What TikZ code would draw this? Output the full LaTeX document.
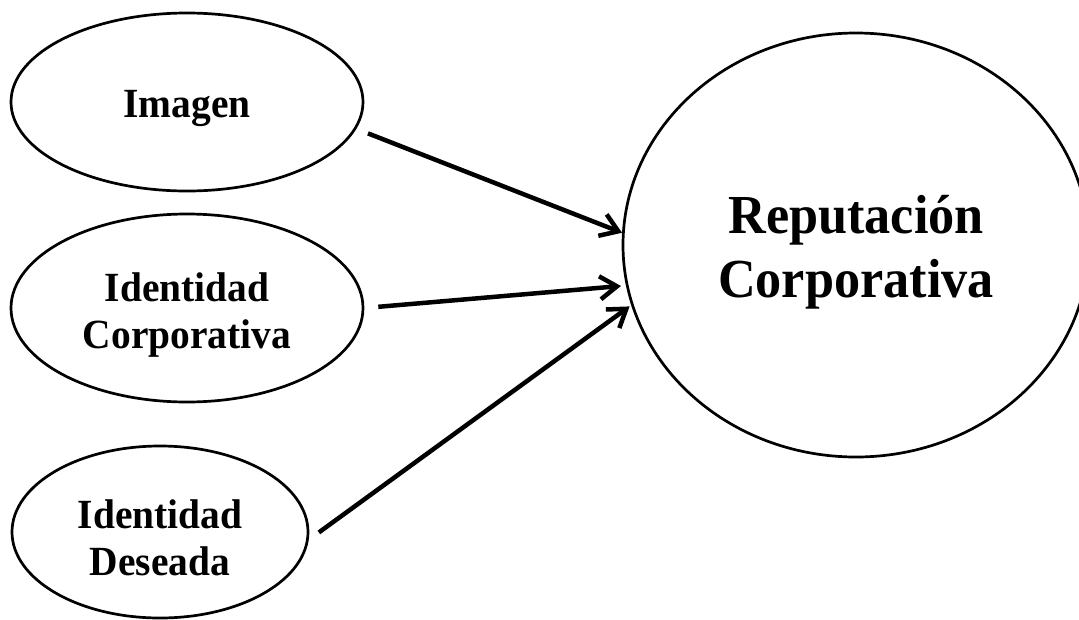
\documentclass[tikz,border=0pt]{standalone}
\usepackage{fontspec}
\setmainfont{Liberation Serif}[FakeStretch=0.95]
\usetikzlibrary{shapes.geometric,arrows.meta}
\begin{document}
\begin{tikzpicture}[x=1pt,y=-1pt,
  oval/.style={ellipse, draw, line width=2.7pt, inner sep=0pt},
  lbl/.style={inner sep=0pt, align=center, font=\bfseries\fontsize{41.5}{47}\selectfont},
  biglbl/.style={inner sep=0pt, align=center, font=\bfseries\fontsize{55}{64}\selectfont},
  arr/.style={line width=4.5pt, -{Straight Barb[length=17pt,width=23pt,line width=4.5pt]}}]
\useasboundingbox (0,0) rectangle (1079,619);
\clip (0,0) rectangle (1079,619);
\node[oval, minimum width=352pt, minimum height=178pt] (img) at (187,102) {};
\node[oval, minimum width=352pt, minimum height=188pt] (idc) at (187,308) {};
\node[oval, minimum width=296pt, minimum height=172pt] (ids) at (160,532) {};
\node[oval, minimum width=466pt, minimum height=424pt] (rep) at (856,245) {};
\node[lbl] (imgt) at (187,108) {Imagen};
\node[lbl] (idct) at (187,315) {Identidad\\Corporativa};
\node[lbl] (idst) at (160,538) {Identidad\\Deseada};
\node[biglbl] (rept) at (856,252) {Reputación\\Corporativa};
\draw[arr, shorten <=12.5pt] (img.-9) -- (rep.177.6);
\draw[arr, shorten <=14pt, shorten >=5pt] (idc.0) -- (rep.190);
\draw[arr, shorten <=12.5pt, shorten >=2pt] (ids.-3) -- (rep.195);
\end{tikzpicture}
\end{document}
